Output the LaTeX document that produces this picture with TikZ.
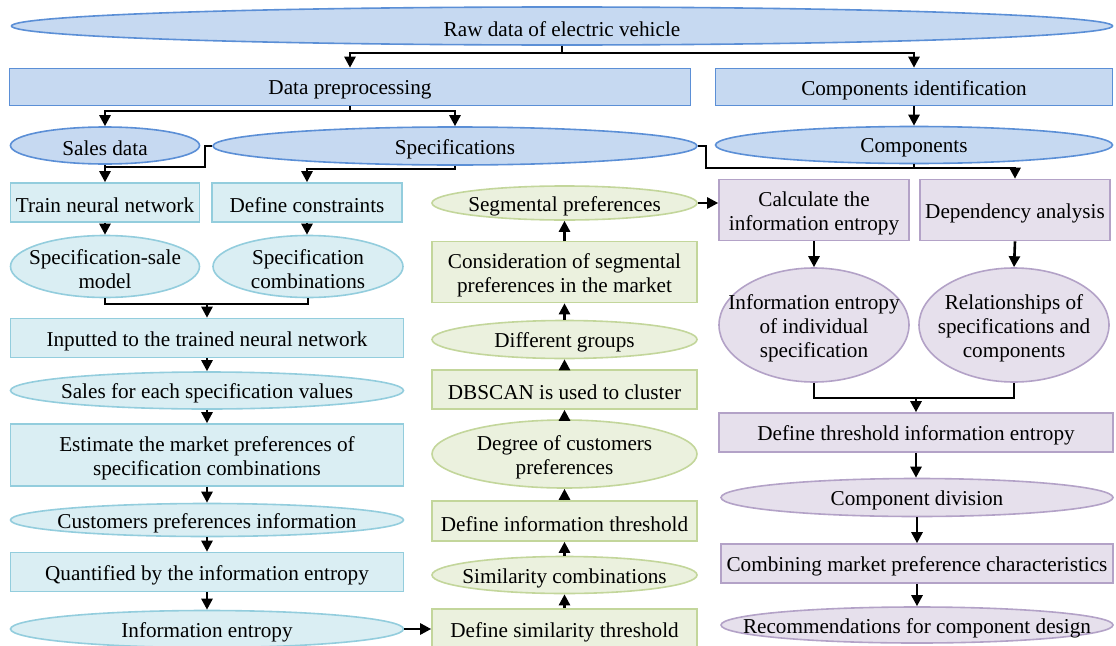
\documentclass[tikz,border=0pt]{standalone}
\usepackage{fontspec}
\setmainfont{Liberation Serif}
\usetikzlibrary{arrows.meta,shapes.geometric}
\definecolor{blueF}{HTML}{C6D9F1}
\definecolor{blueD}{HTML}{5B8FD6}
\definecolor{cyanF}{HTML}{DAEEF3}
\definecolor{cyanD}{HTML}{93CDDD}
\definecolor{greenF}{HTML}{EBF1DE}
\definecolor{greenD}{HTML}{C3D69B}
\definecolor{purpF}{HTML}{E6E0EC}
\definecolor{purpD}{HTML}{B3A2C7}
\tikzset{
  base/.style={inner sep=0pt, line width=1.6pt},
  bbox/.style={base, rectangle, fill=blueF, draw=blueD},
  bell/.style={base, ellipse, fill=blueF, draw=blueD},
  cbox/.style={base, rectangle, fill=cyanF, draw=cyanD},
  cell/.style={base, ellipse, fill=cyanF, draw=cyanD},
  gbox/.style={base, rectangle, fill=greenF, draw=greenD},
  gell/.style={base, ellipse, fill=greenF, draw=greenD},
  pbox/.style={base, rectangle, fill=purpF, draw=purpD},
  pell/.style={base, ellipse, fill=purpF, draw=purpD},
  txt/.style={inner sep=0pt, align=center, yshift=-3pt, font=\fontsize{21.2}{24}\selectfont},
  ln/.style={line width=2.6pt, black},
  arr/.style={ln, -{Triangle[length=11pt,width=11pt]}},
}
\begin{document}
\begin{tikzpicture}[x=1pt,y=-1pt]
\useasboundingbox (0,0) rectangle (1116,645);
% ---- top blue
\node[bell, minimum width=1101, minimum height=38] (raw) at (562,26) {};
\node[txt] (raw-t) at (raw) {Raw data of electric vehicle};
\node[bbox, minimum width=681, minimum height=37] (dp) at (350,87) {};
\node[txt] (dp-t) at (dp) {Data preprocessing};
\node[bbox, minimum width=397, minimum height=37] (ci) at (914,87) {};
\node[txt] (ci-t) at (ci) {Components identification};
\node[bell, minimum width=189, minimum height=37] (sales) at (105,145.5) {};
\node[txt] (sales-t) at (sales) {Sales data};
\node[bell, minimum width=484, minimum height=38] (spec) at (455,146) {};
\node[txt] (spec-t) at (spec) {Specifications};
\node[bell, minimum width=397, minimum height=37] (comp) at (914,145) {};
\node[txt] (comp-t) at (comp) {Components};
% ---- left cyan
\node[cbox, minimum width=189, minimum height=39] (tnn) at (105,202.5) {};
\node[txt] (tnn-t) at (tnn) {Train neural network};
\node[cbox, minimum width=190, minimum height=39] (dc) at (307,202.5) {};
\node[txt] (dc-t) at (dc) {Define constraints};
\node[cell, minimum width=189, minimum height=62] (ssm) at (105,266.5) {};
\node[txt] (ssm-t) at (ssm) {Specification-sale\\model};
\node[cell, minimum width=190, minimum height=62] (sc) at (308,266.5) {};
\node[txt] (sc-t) at (sc) {Specification\\combinations};
\node[cbox, minimum width=393, minimum height=39] (inp) at (207,338) {};
\node[txt] (inp-t) at (inp) {Inputted to the trained neural network};
\node[cell, minimum width=393, minimum height=37] (sfe) at (207,390.5) {};
\node[txt] (sfe-t) at (sfe) {Sales for each specification values};
\node[cbox, minimum width=393, minimum height=62] (est) at (207,455) {};
\node[txt] (est-t) at (est) {Estimate the market preferences of\\specification combinations};
\node[cell, minimum width=393, minimum height=33] (cpi) at (207,520) {};
\node[txt] (cpi-t) at (cpi) {Customers preferences information};
\node[cbox, minimum width=393, minimum height=39] (qie) at (207,572) {};
\node[txt] (qie-t) at (qie) {Quantified by the information entropy};
\node[cell, minimum width=393, minimum height=37] (ie) at (207,629) {};
\node[txt] (ie-t) at (ie) {Information entropy};
% ---- middle green
\node[gell, minimum width=265, minimum height=34] (sp) at (564.5,203) {};
\node[txt] (sp-t) at (sp) {Segmental preferences};
\node[gbox, minimum width=265, minimum height=61] (cons) at (564.5,272) {};
\node[txt] (cons-t) at (cons) {Consideration of segmental\\preferences in the market};
\node[gell, minimum width=265, minimum height=38] (dg) at (564.5,339.5) {};
\node[txt] (dg-t) at (dg) {Different groups};
\node[gbox, minimum width=265, minimum height=39] (dbs) at (564.5,389.5) {};
\node[txt] (dbs-t) at (dbs) {DBSCAN is used to cluster};
\node[gell, minimum width=265, minimum height=68] (dcp) at (564.5,454) {};
\node[txt] (dcp-t) at (dcp) {Degree of customers\\preferences};
\node[gbox, minimum width=265, minimum height=40] (dit) at (564.5,521) {};
\node[txt] (dit-t) at (dit) {Define information threshold};
\node[gell, minimum width=265, minimum height=37] (simc) at (564.5,575) {};
\node[txt] (simc-t) at (simc) {Similarity combinations};
\node[gbox, minimum width=265, minimum height=40] (dst) at (564.5,629) {};
\node[txt] (dst-t) at (dst) {Define similarity threshold};
% ---- right purple
\node[pbox, minimum width=190, minimum height=61] (cie) at (814,210) {};
\node[txt] (cie-t) at (cie) {Calculate the\\information entropy};
\node[pbox, minimum width=190, minimum height=61] (dep) at (1015,210) {};
\node[txt] (dep-t) at (dep) {Dependency analysis};
\node[pell, minimum width=190, minimum height=114] (iei) at (814,325) {};
\node[txt] (iei-t) at (iei) {Information entropy\\of individual\\specification};
\node[pell, minimum width=190, minimum height=114] (rel) at (1014,325) {};
\node[txt] (rel-t) at (rel) {Relationships of\\specifications and\\components};
\node[pbox, minimum width=394, minimum height=39] (dtie) at (916,432.5) {};
\node[txt] (dtie-t) at (dtie) {Define threshold information entropy};
\node[pell, minimum width=392, minimum height=38] (cd) at (917,497.5) {};
\node[txt] (cd-t) at (cd) {Component division};
\node[pbox, minimum width=392, minimum height=39] (cmp) at (917,563.5) {};
\node[txt] (cmp-t) at (cmp) {Combining market preference characteristics};
\node[pell, minimum width=392, minimum height=36] (rec) at (917,625) {};
\node[txt] (rec-t) at (rec) {Recommendations for component design};
% ---- connectors
\coordinate (j1) at (562,53);
\draw[arr] (raw.south) -- (j1) -| (dp.north);
\draw[arr] (j1) -| (ci.north);
\coordinate (j2) at (350,111);
\draw[arr] (dp.south) -- (j2) -| (sales.north);
\draw[arr] (j2) -| (spec.north);
\draw[arr] (ci.south) -- (comp.north);
\draw[arr] (sales.south) -- (tnn.north);
\coordinate (j3) at (205,167);
\coordinate (j3b) at (105,167);
\draw[ln] (spec.west) -| (j3) -- (j3b);
\coordinate (j4) at (455,169);
\draw[arr] (spec.south) -- (j4) -| (dc.north);
\coordinate (j5) at (706,168);
\draw[arr] (spec.east) -| (j5) -| (dep.north);
\draw[ln] (comp.south) -- (comp.south |- j5);
\draw[arr] (tnn.south) -- (tnn.south |- ssm.north);
\draw[arr] (dc.south) -- (dc.south |- sc.north);
\coordinate (j6) at (207,304);
\draw[ln] (ssm.south) |- (j6) -| (sc.south);
\draw[arr] (j6) -- (inp.north);
\draw[arr] (inp.south) -- (sfe.north);
\draw[arr] (sfe.south) -- (est.north);
\draw[arr] (est.south) -- (cpi.north);
\draw[arr] (cpi.south) -- (qie.north);
\draw[arr] (qie.south) -- (ie.north);
\draw[arr] (ie.east) -- (ie.east -| dst.west);
\draw[arr] (dst.north) -- (simc.south);
\draw[arr] (simc.north) -- (dit.south);
\draw[arr] (dit.north) -- (dcp.south);
\draw[arr] (dcp.north) -- (dbs.south);
\draw[arr] (dbs.north) -- (dg.south);
\draw[arr] (dg.north) -- (cons.south);
\draw[arr] (cons.north) -- (sp.south);
\draw[arr] (sp.east) -- (sp.east -| cie.west);
\draw[arr] (cie.south) -- (iei.north);
\draw[arr] (dep.south) -- (rel.north);
\coordinate (j7) at (916,398);
\draw[ln] (iei.south) |- (j7) -| (rel.south);
\draw[arr] (j7) -- (dtie.north);
\draw[arr] (dtie.south) -- (dtie.south |- cd.north);
\draw[arr] (cd.south) -- (cd.south |- cmp.north);
\draw[arr] (cmp.south) -- (cmp.south |- rec.north);
\end{tikzpicture}
\end{document}
